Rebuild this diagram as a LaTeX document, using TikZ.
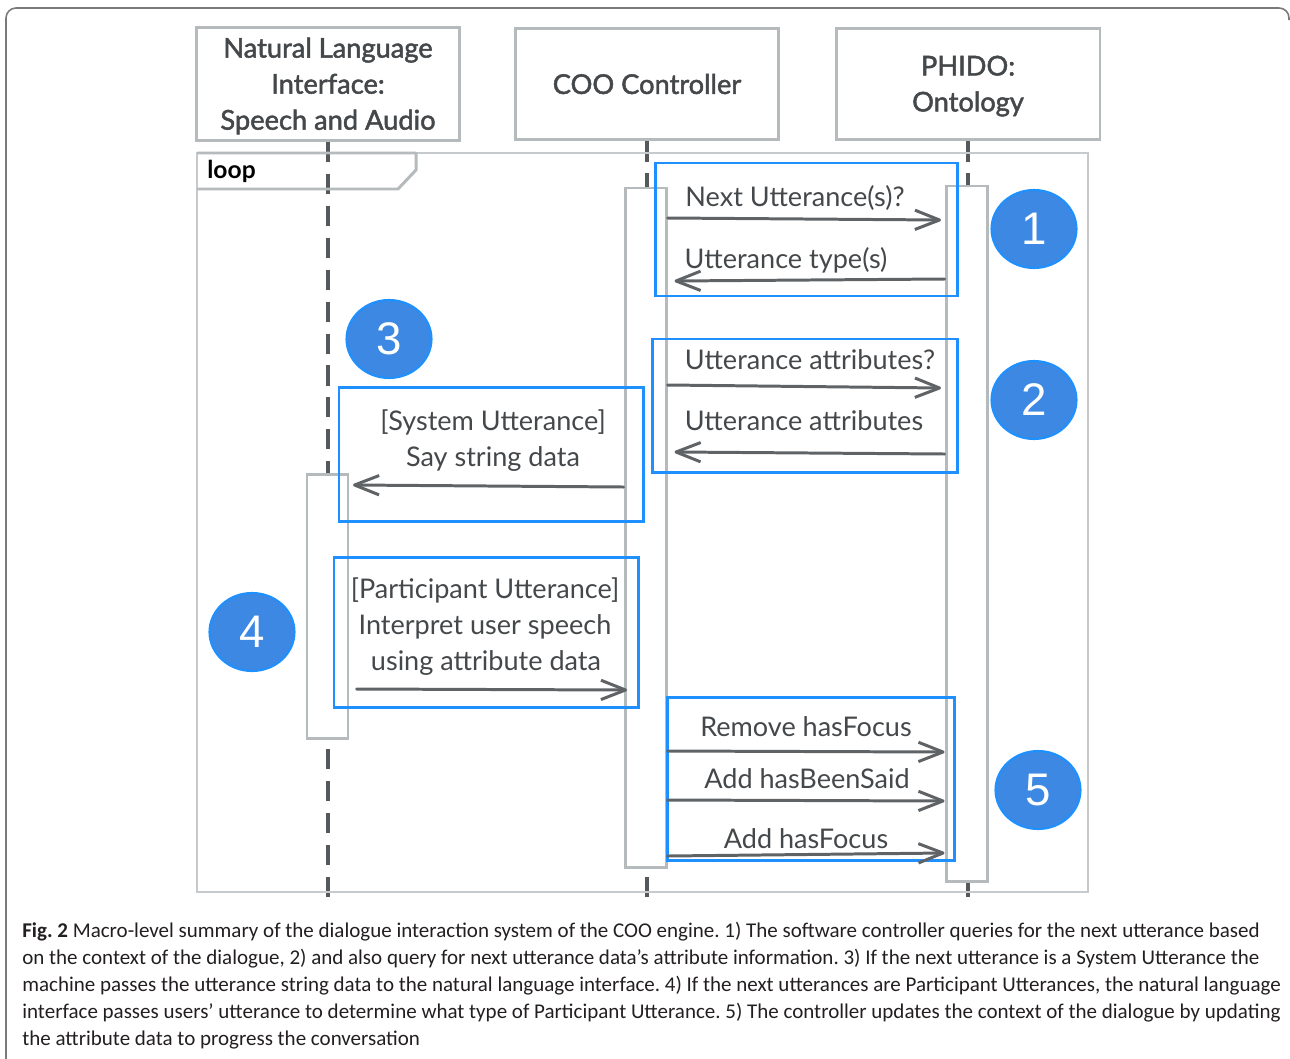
\documentclass[tikz,border=0pt]{standalone}
\usepackage{fontspec}
\setmainfont{Lato}
\newfontfamily\headfont[FakeBold=1.8]{Lato}
\newfontfamily\capfont{Carlito}
\newfontfamily\numfont{Liberation Sans}
\usetikzlibrary{arrows.meta,shapes.geometric,fit}

\definecolor{boxgray}{HTML}{B5BABC}
\definecolor{loopgray}{HTML}{C6CACC}
\definecolor{lifegray}{HTML}{55595C}
\definecolor{msggray}{HTML}{5F6366}
\definecolor{txtgray}{HTML}{45484A}
\definecolor{hiblue}{HTML}{1E90FF}
\definecolor{dotblue}{HTML}{3C88E2}
\definecolor{framegray}{HTML}{7A7A7A}
\definecolor{captext}{HTML}{231F20}

% strut that lowers a multi-line heading slightly inside its box
\newcommand{\headstrut}{\rule{0pt}{13.6pt}}

\tikzset{
  participant/.style={draw=boxgray, line width=1.7pt, fill=white,
    minimum width=5.28cm, minimum height=2.24cm, align=center, text=txtgray,
    font=\headfont\fontsize{15.5}{20.5}\selectfont},
  lifeline/.style={draw=lifegray, line width=2pt, dash pattern=on 11.4pt off 6.8pt},
  activation/.style={draw=boxgray, line width=1.7pt, fill=white, inner sep=0pt},
  hibox/.style={draw=hiblue, line width=1.7pt, inner sep=0pt},
  msg/.style={draw=msggray, line width=1.7pt, line cap=round,
    -{Straight Barb[length=14pt,width=11pt,line join=round]}},
  msglabel/.style={text=txtgray, inner sep=0pt, text height=0.72em, text depth=0pt,
    yshift=-2.5pt, font=\fontsize{15.4}{18}\selectfont},
  stepdot/.style={ellipse, fill=dotblue, draw=hiblue, line width=1.2pt,
    minimum width=1.7cm, minimum height=1.56cm, text=white, inner sep=0pt,
    font=\numfont\fontsize{26}{26}\selectfont}
}

\begin{document}
\begin{tikzpicture}[x=0.02cm, y=-0.02cm]
\useasboundingbox (0,0) rectangle (1290,1058);

% outer page frame
\draw[framegray, line width=0.9pt, rounded corners=0.2cm]
  (6,1070) -- (6,8) -- (1289,8) -- (1289,20);

% participants
\node[participant] (nli) at (328,84) {\headstrut Natural Language\\Interface:\\Speech and Audio};
\node[participant] (coo) at (647,84) {COO Controller};
\node[participant] (phido) at (968,84) {\headstrut PHIDO:\\Ontology};

% lifeline ends
\coordinate (nliEnd) at (328,902);
\coordinate (cooEnd) at (647,902);
\coordinate (phidoEnd) at (968,902);

\draw[lifeline] (nli.south) -- (nliEnd);
\draw[lifeline] (coo.south) -- (cooEnd);
\draw[lifeline] (phido.south) -- (phidoEnd);

% loop combined fragment
\draw[loopgray, line width=1.1pt] (197,153) rectangle (1088,892);
\draw[boxgray, line width=1.7pt, line join=round]
  (197,153) -- (416,153) -- (416,170) -- (398,189) -- (197,189);
\node[anchor=west, inner sep=0pt, text height=0.72em, text depth=0pt,
  font=\bfseries\fontsize{14}{16}\selectfont] (looplabel) at (207,172) {loop};

% activation bars
\node[activation, fit={(625,188) (666,867)}] (cooAct) {};
\node[activation, fit={(946,186) (987,881)}] (phAct) {};
\node[activation, fit={(307,474) (348,738)}] (nliAct) {};

% highlighted groups
\node[hibox, fit={(655,163) (957,296)}] (grpA) {};
\node[hibox, fit={(652,339) (957,472)}] (grpB) {};
\node[hibox, fit={(339,387) (643,521)}] (grpC) {};
\node[hibox, fit={(334,557) (638,707)}] (grpD) {};
\node[hibox, fit={(667,697) (954,860)}] (grpE) {};

% messages
\draw[msg] (cooAct.east |- 0,218) -- ([xshift=-2pt]phAct.west |- 0,220);
\node[msglabel] (l1) at (795,196) {Next Utterance(s)?};

\draw[msg] (phAct.west |- 0,279) -- ([xshift=4pt]cooAct.east |- 0,281);
\node[msglabel] (l2) at (786,258) {Utterance type(s)};

\draw[msg] (cooAct.east |- 0,385) -- ([xshift=-2pt]phAct.west |- 0,388);
\node[msglabel] (l3) at (810,359) {Utterance attributes?};

\draw[msg] (phAct.west |- 0,454) -- ([xshift=4pt]cooAct.east |- 0,452);
\node[msglabel] (l4) at (804,420) {Utterance attributes};

\draw[msg] (cooAct.west |- 0,487) -- ([xshift=2pt]nliAct.east |- 0,485);
\node[msglabel] (l5a) at (493,420) {[System Utterance]};
\node[msglabel] (l5b) at (493,456) {Say string data};

\draw[msg] ([xshift=4pt]nliAct.east |- 0,689) -- ([xshift=2pt]cooAct.west |- 0,690);
\node[msglabel] (l6a) at (485,588) {[Participant Utterance]};
\node[msglabel] (l6b) at (485,624) {Interpret user speech};
\node[msglabel] (l6c) at (486,660) {using attribute data};

\draw[msg] (cooAct.east |- 0,751) -- (phAct.west |- 0,752);
\node[msglabel] (l7) at (806,726) {Remove hasFocus};

\draw[msg] (cooAct.east |- 0,800) -- (phAct.west |- 0,801);
\node[msglabel] (l8) at (807,778) {Add hasBeenSaid};

\draw[msg] (cooAct.east |- 0,856) -- (phAct.west |- 0,853);
\node[msglabel] (l9) at (806,838) {Add hasFocus};

% step markers
\node[stepdot] (s1) at (1034,229) {1};
\node[stepdot] (s2) at (1034,400) {2};
\node[stepdot] (s3) at (389,339) {3};
\node[stepdot] (s4) at (252,632) {4};
\node[stepdot] (s5) at (1038,790) {5};

% caption
\node[anchor=north west, inner sep=0pt, align=left, text=captext,
  font=\capfont\fontsize{11.95}{15.4}\selectfont\frenchspacing] (caption) at (22,922)
{\textbf{Fig. 2} Macro-level summary of the dialogue interaction system of the COO engine. 1) The software controller queries for the next utterance based\\
on the context of the dialogue, 2) and also query for next utterance data’s attribute information. 3) If the next utterance is a System Utterance the\\
machine passes the utterance string data to the natural language interface. 4) If the next utterances are Participant Utterances, the natural language\\
interface passes users’ utterance to determine what type of Participant Utterance. 5) The controller updates the context of the dialogue by updating\\
the attribute data to progress the conversation};
\end{tikzpicture}
\end{document}
